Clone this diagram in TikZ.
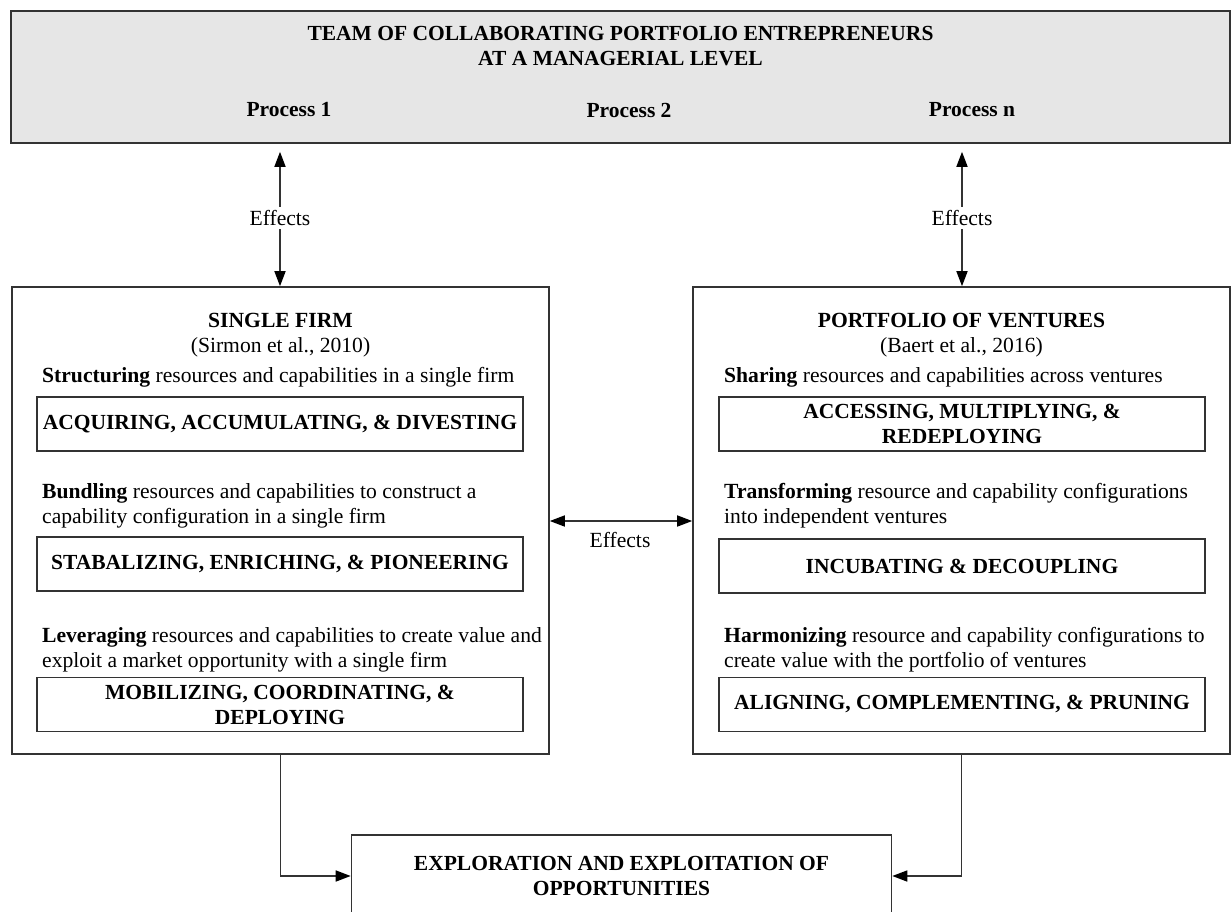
\documentclass[tikz,border=0pt]{standalone}
\usepackage{fontspec}
\setmainfont{Liberation Serif}
\usetikzlibrary{arrows.meta,positioning}
\definecolor{linegray}{HTML}{333333}
\definecolor{bannergray}{HTML}{E6E6E6}

\begin{document}
\begin{tikzpicture}
	[x=1pt,y=-1pt,
	every node/.style={font=\fontsize{21.6}{25}\selectfont},
	bold/.style={font=\fontsize{21.5}{25}\selectfont\bfseries},
	line/.style={draw=linegray, line width=1.6pt},
	box/.style={line, rectangle, inner sep=0pt},
	inbox/.style={box, bold, align=center, minimum width=486pt, minimum height=54pt},
	desc/.style={anchor=west, align=left, inner sep=0pt},
	tip/.tip={Triangle[length=15pt,width=11pt,color=black]},
	arr/.style={line, -tip}]
	\useasboundingbox (0,0) rectangle (1232,911);
	\clip (0,0) rectangle (1232,911);
	
	% managerial level
	\node[box, fill=bannergray, minimum width=1219pt, minimum height=132pt] (team) at (620.5,77) {};
	\node[bold, align=center] (title) at (620.5,46.5) {TEAM OF COLLABORATING PORTFOLIO ENTREPRENEURS\\AT A MANAGERIAL LEVEL};
	\node[bold] (p1) at (289,110) {Process 1};
	\node[bold] (p2) at (629,110) {Process 2};
	\node[bold] (pn) at (972,110) {Process n};
	
	% the two levels
	\node[box, minimum width=537pt, minimum height=467pt] (single) at (280.5,520.5) {};
	\node[box, minimum width=537pt, minimum height=467pt] (portf) at (961.5,520.5) {};
	\node[align=center] (singleT) at (280.5,335) {\textbf{SINGLE FIRM}\\(Sirmon et al., 2010)};
	\node[align=center] (portfT) at (961.5,335) {\textbf{PORTFOLIO OF VENTURES}\\(Baert et al., 2016)};
	
	\node[desc] (struct) at (42,377) {\textbf{Structuring} resources and capabilities in a single firm};
	\node[desc] (bundl) at (42,505.5) {\textbf{Bundling} resources and capabilities to construct a\\capability configuration in a single firm};
	\node[desc] (lever) at (42,649.5) {\textbf{Leveraging} resources and capabilities to create value and\\exploit a market opportunity with a single firm};
	\node[desc] (share) at (724,377) {\textbf{Sharing} resources and capabilities across ventures};
	\node[desc] (transf) at (724,505.5) {\textbf{Transforming} resource and capability configurations\\into independent ventures};
	\node[desc] (harmo) at (724,649.5) {\textbf{Harmonizing} resource and capability configurations to\\create value with the portfolio of ventures};
	
	\node[inbox] (acq) at (280,424) {ACQUIRING, ACCUMULATING, \& DIVESTING};
	\node[inbox] (stab) at (280,564) {STABALIZING, ENRICHING, \& PIONEERING};
	\node[inbox] (mob) at (280,704.5) {MOBILIZING, COORDINATING, \&\\DEPLOYING};
	\node[inbox] (acc) at (962,424) {ACCESSING, MULTIPLYING, \&\\REDEPLOYING};
	\node[inbox] (incu) at (962,566) {INCUBATING \& DECOUPLING};
	\node[inbox] (alig) at (962,704.5) {ALIGNING, COMPLEMENTING, \& PRUNING};
	
	% effects
	\node (eff1) at (280,218) {Effects};
	\node (effn) at (962,218) {Effects};
	\foreach \e/\b in {eff1/single,effn/portf}{
		\draw[arr, shorten >=8pt] (\e) -- (\e |- team.south);
		\draw[arr] (\e) -- (\e |- \b.north);
	}
	\coordinate (mid) at (620,521);
	\draw[line, tip-tip] (mid -| single.east) -- (mid -| portf.west);
	\node (effm) at (620,540) {Effects};
	
	% outcome
	\node[box, bold, align=center, minimum width=540pt, minimum height=82pt] (explo) at (621.5,876) {EXPLORATION AND EXPLOITATION OF\\OPPORTUNITIES};
	\draw[arr] (single.south) |- (explo.west);
	\draw[arr] (portf.south) |- (explo.east);
\end{tikzpicture}
\end{document}
